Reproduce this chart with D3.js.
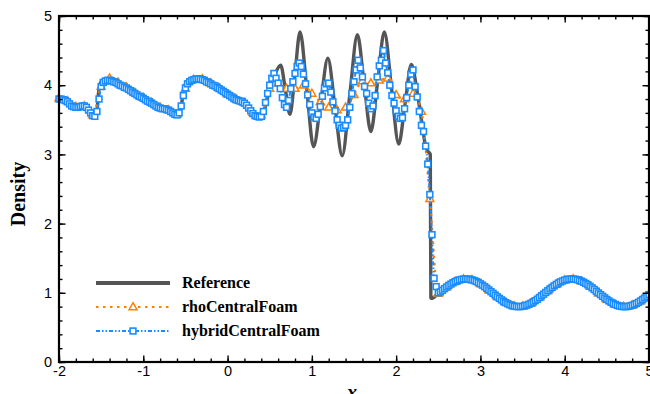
<!DOCTYPE html>
<html>
<head>
<meta charset="utf-8">
<script src="https://cdn.jsdelivr.net/npm/d3@7"></script>
<style>
  html, body { margin: 0; padding: 0; background: #fff; }
  svg { display: block; }
</style>
</head>
<body>
<div id="chart"></div>
<script>
// Shu-Osher density at t=1.8
const X_TICKS = [-2, -1, 0, 1, 2, 3, 4, 5];
const Y_TICKS = [0, 1, 2, 3, 4, 5];
const SERIES = ["Reference", "rhoCentralFoam", "hybridCentralFoam"];

// Reference (fine grid) — x / rho pairs
const refX = [-2.0, -1.9, -1.8, -1.7, -1.64, -1.6, -1.575, -1.55, -1.53, -1.5,
  -1.45, -1.38, -1.3, -1.0, -0.8, -0.65, -0.6, -0.575, -0.55, -0.52,
  -0.48, -0.42, -0.33, -0.2, 0.0, 0.2, 0.3, 0.38, 0.43, 0.5,
  0.57, 0.63, 0.685, 0.74, 0.80, 0.86, 0.94, 1.02, 1.105, 1.19,
  1.275, 1.36, 1.45, 1.54, 1.62, 1.70, 1.78, 1.86, 1.945, 2.03,
  2.105, 2.18, 2.25, 2.30, 2.35, 2.38, 2.405, 2.412, 2.42, 2.5,
  2.6, 2.7, 2.8, 2.9, 3.0, 3.1, 3.2, 3.3, 3.4, 3.5,
  3.6, 3.7, 3.8, 3.9, 4.0, 4.1, 4.2, 4.3, 4.4, 4.5,
  4.6, 4.7, 4.8, 4.9, 5.0];
const refRho = [3.81, 3.76, 3.69, 3.70, 3.63, 3.57, 3.54, 3.62, 3.90, 4.05,
  4.09, 4.10, 4.05, 3.83, 3.68, 3.61, 3.58, 3.56, 3.68, 3.95,
  4.05, 4.08, 4.09, 4.03, 3.88, 3.75, 3.60, 3.54, 3.62, 3.95,
  4.18, 4.29, 3.94, 3.58, 4.17, 4.77, 3.94, 3.11, 3.75, 4.39,
  3.68, 2.98, 3.86, 4.73, 4.03, 3.33, 4.05, 4.77, 3.96, 3.15,
  3.72, 4.30, 3.90, 3.50, 3.12, 3.04, 3.00, 0.93, 0.92, 0.99,
  1.084, 1.161, 1.198, 1.187, 1.130, 1.041, 0.942, 0.858, 0.807, 0.805,
  0.849, 0.932, 1.030, 1.121, 1.183, 1.199, 1.167, 1.094, 0.998, 0.903,
  0.831, 0.800, 0.819, 0.882, 0.974];

// rhoCentralFoam, sampled every 0.1 from x = -2
const rhoX0 = -2, rhoDx = 0.1;
const rhoCentral = [3.81, 3.77, 3.69, 3.70, 3.57, 3.98, 4.10, 4.04, 3.97, 3.89,
  3.82, 3.75, 3.68, 3.64, 3.58, 3.95, 4.08, 4.09, 4.03, 3.96,
  3.87, 3.80, 3.75, 3.60, 3.57, 3.95, 4.03, 3.95, 3.95, 4.00,
  3.88, 3.76, 3.68, 3.64, 3.68, 3.86, 4.06, 4.03, 4.07, 4.10,
  3.86, 3.80, 3.88, 3.62, 2.36, 0.99, 1.084, 1.161, 1.198, 1.187,
  1.130, 1.041, 0.942, 0.858, 0.807, 0.805, 0.849, 0.932, 1.030, 1.121,
  1.183, 1.199, 1.167, 1.094, 0.998, 0.903, 0.831, 0.800, 0.819, 0.882,
  0.974];

// hybridCentralFoam, every 0.025 from x = -2
const hybX0 = -2, hybDx = 0.025;
const hybridCentral = [
  3.80, 3.80, 3.79, 3.78, 3.76, 3.73, 3.70, 3.69, 3.68, 3.68, 3.69, 3.70, 3.70,
  3.68, 3.64, 3.60, 3.56, 3.55, 3.62, 3.80, 3.98, 4.04, 4.06, 4.07, 4.07,
  4.06, 4.05, 4.04, 4.02, 4.00, 3.99, 3.97, 3.96, 3.94, 3.92, 3.90, 3.88, 3.86, 3.84, 3.83, 3.81,
  3.79, 3.77, 3.76, 3.74, 3.72, 3.70, 3.68, 3.67, 3.66, 3.66, 3.65, 3.64, 3.62, 3.60, 3.58, 3.57,
  3.60, 3.70, 3.85, 3.96, 4.02, 4.05, 4.07, 4.08, 4.09, 4.09, 4.09, 4.08,
  4.07, 4.05, 4.04, 4.02, 4.00, 3.99, 3.97, 3.95, 3.93, 3.91, 3.89, 3.87,
  3.85, 3.83, 3.81, 3.79, 3.78, 3.77, 3.76, 3.74, 3.71, 3.67, 3.63, 3.59, 3.56, 3.55, 3.54, 3.55,
  3.62, 3.75, 3.88, 4.00, 4.10, 4.17, 4.10, 4.03, 3.95, 3.82, 3.72, 3.68,
  3.78, 3.95, 4.05, 4.17, 4.27, 4.32, 4.27, 4.16, 4.02, 3.86, 3.72, 3.60,
  3.54, 3.52, 3.58, 3.69, 3.84, 3.96, 4.02, 4.03, 3.90, 3.76, 3.63, 3.50,
  3.42, 3.38, 3.39, 3.42, 3.50, 3.68, 3.88, 4.05, 4.22, 4.36, 4.25, 4.12,
  3.98, 3.88, 3.74, 3.66, 3.70, 3.85, 4.12, 4.28, 4.36, 4.50, 4.32, 4.18,
  4.00, 3.85, 3.74, 3.63, 3.55, 3.52, 3.53, 3.66, 3.82, 4.00, 4.16, 4.22,
  3.98, 3.83, 3.62, 3.42, 3.33, 3.12, 2.86, 2.42, 1.84, 1.21, 1.09, 1.00,
  1.012, 1.037, 1.061, 1.084, 1.106, 1.126, 1.145, 1.161, 1.174, 1.185,
  1.193, 1.198, 1.200, 1.199, 1.194, 1.187, 1.177, 1.164, 1.148, 1.130,
  1.110, 1.088, 1.065, 1.041, 1.016, 0.992, 0.967, 0.942, 0.919, 0.897,
  0.876, 0.858, 0.841, 0.827, 0.816, 0.807, 0.802, 0.800, 0.801, 0.805,
  0.812, 0.821, 0.834, 0.849, 0.866, 0.886, 0.907, 0.932, 0.956, 0.980,
  1.005, 1.030, 1.055, 1.078, 1.100, 1.121, 1.140, 1.157, 1.171, 1.183,
  1.191, 1.197, 1.200, 1.199, 1.196, 1.189, 1.180, 1.167, 1.152, 1.135,
  1.116, 1.094, 1.072, 1.048, 1.023, 0.998, 0.973, 0.949, 0.925, 0.903,
  0.882, 0.862, 0.845, 0.831, 0.818, 0.809, 0.803, 0.800, 0.800, 0.804,
  0.810, 0.819, 0.831, 0.845, 0.862, 0.882, 0.903, 0.925, 0.949, 0.974];

const REF_COLOR = "#555555";
const RHO_COLOR = "#ff8000";
const HYB_COLOR = "#1a8cff";

const width = 650, height = 394;
const margin = { top: 16, right: 1, bottom: 32, left: 59 };

const svg = d3.select("#chart").append("svg")
  .attr("width", width)
  .attr("height", height)
  .attr("viewBox", `0 0 ${width} ${height}`);

const x = d3.scaleLinear().domain([-2, 5]).range([margin.left, width - margin.right]);
const y = d3.scaleLinear().domain([0, 5]).range([height - margin.bottom, margin.top]);

const refData = refX.map((v, i) => ({ x: v, y: refRho[i] }));
const rhoData = rhoCentral.map((v, i) => ({ x: rhoX0 + i * rhoDx, y: v }));
const hybData = hybridCentral.map((v, i) => ({ x: hybX0 + i * hybDx, y: v }));

const line = d3.line()
  .x((d) => x(d.x))
  .y((d) => y(d.y))
  .curve(d3.curveMonotoneX);

const triPath = "M0,-4.3L4,2.7L-4,2.7Z";
const sq = 5.8;

// reference
svg.append("path").datum(refData)
  .attr("fill", "none")
  .attr("stroke", REF_COLOR)
  .attr("stroke-width", 3.4)
  .attr("stroke-linejoin", "round")
  .attr("d", line);

// rhoCentralFoam
svg.append("path").datum(rhoData)
  .attr("fill", "none")
  .attr("stroke", RHO_COLOR)
  .attr("stroke-width", 2.2)
  .attr("stroke-dasharray", "2.5,4.5")
  .attr("d", line);
svg.append("g").selectAll("path")
  .data(rhoData)
  .join("path")
  .attr("d", triPath)
  .attr("transform", (d) => `translate(${x(d.x)},${y(d.y)})`)
  .attr("fill", "#fff")
  .attr("stroke", RHO_COLOR)
  .attr("stroke-width", 1.5);

// hybridCentralFoam
svg.append("path").datum(hybData)
  .attr("fill", "none")
  .attr("stroke", HYB_COLOR)
  .attr("stroke-width", 2)
  .attr("stroke-dasharray", "4,2,1.5,2,1.5,2")
  .attr("d", line);
svg.append("g").selectAll("rect")
  .data(hybData)
  .join("rect")
  .attr("x", (d) => x(d.x) - sq / 2)
  .attr("y", (d) => y(d.y) - sq / 2)
  .attr("width", sq)
  .attr("height", sq)
  .attr("fill", "#fff")
  .attr("stroke", HYB_COLOR)
  .attr("stroke-width", 1.6);

// axes: inward ticks on all four sides
const xMinor = d3.range(-2, 5.001, 0.2);
const yMinor = d3.range(0, 5.001, 0.2);
const tickFont = "'Liberation Sans', Arial, sans-serif";

function styleAxis(g) {
  g.select(".domain").remove();
  g.selectAll("line").attr("stroke", "#000").attr("stroke-width", 1.4);
  g.selectAll("text").style("font-family", tickFont).style("font-size", "14.5px").attr("fill", "#000");
}

const x0 = y(0), yTop = y(5), xL = x(-2), xR = x(5);

svg.append("g").attr("transform", `translate(0,${x0})`)
  .call(d3.axisBottom(x).tickValues(xMinor).tickSize(-3.5).tickFormat(""))
  .call(styleAxis);
svg.append("g").attr("transform", `translate(0,${x0})`)
  .call(d3.axisBottom(x).tickValues(X_TICKS).tickSize(-6.5).tickPadding(4).tickFormat((d) => String(d)))
  .call(styleAxis);
svg.append("g").attr("transform", `translate(0,${yTop})`)
  .call(d3.axisTop(x).tickValues(xMinor).tickSize(-3.5).tickFormat(""))
  .call(styleAxis);
svg.append("g").attr("transform", `translate(0,${yTop})`)
  .call(d3.axisTop(x).tickValues(X_TICKS).tickSize(-6.5).tickFormat(""))
  .call(styleAxis);

svg.append("g").attr("transform", `translate(${xL},0)`)
  .call(d3.axisLeft(y).tickValues(yMinor).tickSize(-3.5).tickFormat(""))
  .call(styleAxis);
svg.append("g").attr("transform", `translate(${xL},0)`)
  .call(d3.axisLeft(y).tickValues(Y_TICKS).tickSize(-6.5).tickPadding(7).tickFormat((d) => String(d)))
  .call(styleAxis);
svg.append("g").attr("transform", `translate(${xR},0)`)
  .call(d3.axisRight(y).tickValues(yMinor).tickSize(-3.5).tickFormat(""))
  .call(styleAxis);
svg.append("g").attr("transform", `translate(${xR},0)`)
  .call(d3.axisRight(y).tickValues(Y_TICKS).tickSize(-6.5).tickFormat(""))
  .call(styleAxis);

// frame
svg.append("rect")
  .attr("x", xL).attr("y", yTop)
  .attr("width", xR - xL).attr("height", x0 - yTop)
  .attr("fill", "none")
  .attr("stroke", "#000")
  .attr("stroke-width", 2.2);

// axis titles (the x title and the "5" sit at the page edge, as in the original)
svg.append("text")
  .attr("transform", `translate(25,194) rotate(-90)`)
  .attr("text-anchor", "middle")
  .style("font-family", "'Liberation Serif', 'Times New Roman', serif")
  .style("font-weight", "bold")
  .style("font-size", "20px")
  .text("Density");
svg.append("text")
  .attr("x", 352).attr("y", 399)
  .attr("text-anchor", "middle")
  .style("font-family", "'Liberation Serif', 'Times New Roman', serif")
  .style("font-weight", "bold")
  .style("font-style", "italic")
  .style("font-size", "20px")
  .text("x");

// legend
const legend = svg.append("g");
const legRows = [
  { name: SERIES[0], y: 283 },
  { name: SERIES[1], y: 307 },
  { name: SERIES[2], y: 331 },
];
const lx0 = 96, lx1 = 170, lmx = 133;

legend.append("line")
  .attr("x1", lx0).attr("x2", lx1).attr("y1", legRows[0].y).attr("y2", legRows[0].y)
  .attr("stroke", REF_COLOR).attr("stroke-width", 4);
legend.append("line")
  .attr("x1", lx0).attr("x2", lx1).attr("y1", legRows[1].y).attr("y2", legRows[1].y)
  .attr("stroke", RHO_COLOR).attr("stroke-width", 2.2).attr("stroke-dasharray", "2.5,4.5");
legend.append("path")
  .attr("d", triPath)
  .attr("transform", `translate(${lmx},${legRows[1].y})`)
  .attr("fill", "#fff").attr("stroke", RHO_COLOR).attr("stroke-width", 1.5);
legend.append("line")
  .attr("x1", lx0).attr("x2", lx1).attr("y1", legRows[2].y).attr("y2", legRows[2].y)
  .attr("stroke", HYB_COLOR).attr("stroke-width", 2).attr("stroke-dasharray", "4,2,1.5,2,1.5,2");
legend.append("rect")
  .attr("x", lmx - sq / 2).attr("y", legRows[2].y - sq / 2)
  .attr("width", sq).attr("height", sq)
  .attr("fill", "#fff").attr("stroke", HYB_COLOR).attr("stroke-width", 1.6);

legend.selectAll("text")
  .data(legRows)
  .join("text")
  .attr("x", 182)
  .attr("y", (d) => d.y + 5)
  .style("font-family", "'Liberation Serif', 'Times New Roman', serif")
  .style("font-weight", "bold")
  .style("font-size", "16px")
  .text((d) => d.name);
</script>
</body>
</html>
